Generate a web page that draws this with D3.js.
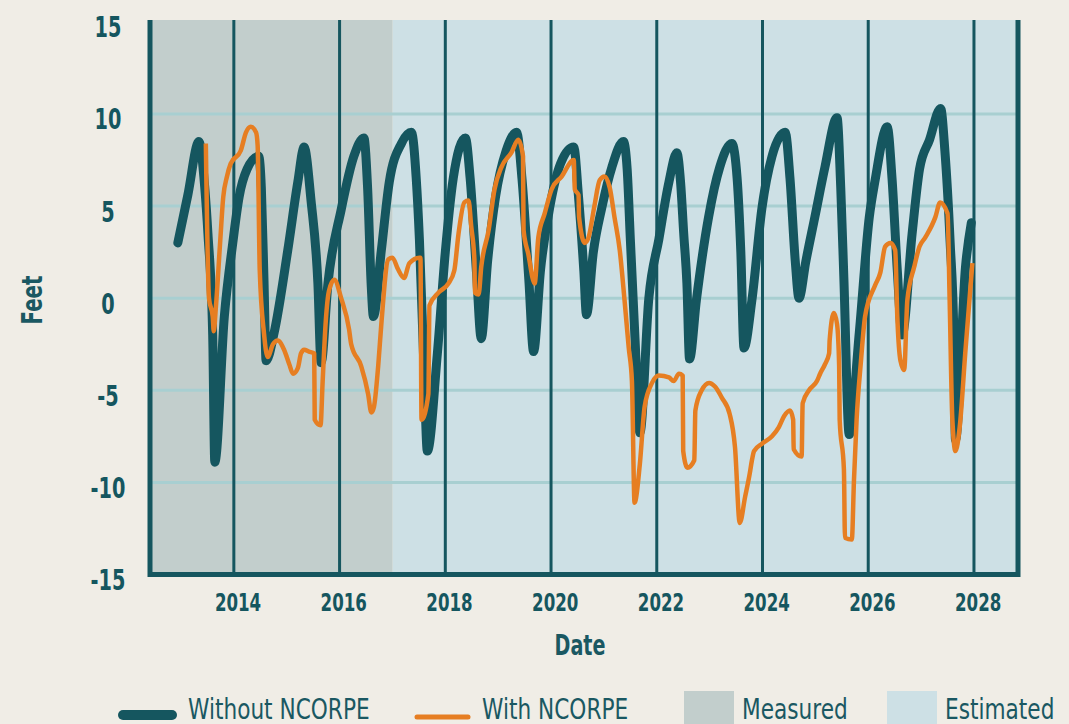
<!DOCTYPE html>
<html>
<head>
<meta charset="utf-8">
<script src="https://cdn.jsdelivr.net/npm/d3@7"></script>
<style>
    body { margin: 0; background: #f0ede6; }
    svg { display: block; }
    text { font-family: "DejaVu Sans Condensed", "DejaVu Sans", sans-serif; fill: #1a5862; }
</style>
</head>
<body>
<script>
//groundwater level chart - with / without NCORPE

//decimal year of each point, "Without NCORPE"
var withoutYears = [2012.94, 2013.13, 2013.34, 2013.45, 2013.51, 2013.60, 2013.64, 2013.82, 2013.98, 2014.10,
    2014.25, 2014.47, 2014.52, 2014.57, 2014.61, 2014.76, 2015.02, 2015.21, 2015.33, 2015.46,
    2015.59, 2015.65, 2015.78, 2016.03, 2016.27, 2016.46, 2016.53, 2016.60, 2016.64, 2016.79,
    2016.94, 2017.17, 2017.36, 2017.45, 2017.51, 2017.60, 2017.66, 2017.85, 2018.00, 2018.15,
    2018.38, 2018.47, 2018.59, 2018.68, 2018.80, 2018.95, 2019.15, 2019.35, 2019.45, 2019.58,
    2019.67, 2019.80, 2019.98, 2020.18, 2020.43, 2020.52, 2020.62, 2020.67, 2020.80, 2020.96,
    2021.15, 2021.37, 2021.44, 2021.50, 2021.59, 2021.68, 2021.85, 2022.04, 2022.23, 2022.38,
    2022.45, 2022.51, 2022.57, 2022.62, 2022.75, 2022.98, 2023.19, 2023.42, 2023.52, 2023.59,
    2023.65, 2023.80, 2023.99, 2024.18, 2024.43, 2024.52, 2024.62, 2024.69, 2024.82, 2024.99,
    2025.18, 2025.41, 2025.48, 2025.54, 2025.64, 2025.83, 2026.02, 2026.13, 2026.36, 2026.45,
    2026.55, 2026.64, 2026.83, 2026.97, 2027.16, 2027.37, 2027.45, 2027.55, 2027.62, 2027.65,
    2027.84, 2027.95];
//feet, "Without NCORPE"
var withoutFeet = [3.0, 5.6, 8.5, 6.0, 3.5, -2.0, -8.9, -1.0, 3.0, 5.5,
    7.0, 7.7, 6.0, 1.0, -3.4, -1.9, 2.6, 6.3, 8.2, 5.3,
    0.8, -3.5, 0.8, 4.8, 7.7, 8.7, 6.0, 0.6, -1.0, 2.6,
    6.3, 8.4, 9.0, 6.5, 3.2, -4.1, -8.3, -3.0, 2.5, 6.5,
    8.7, 6.5, 1.4, -2.2, 2.0, 5.5, 8.0, 9.0, 6.5, 1.0,
    -2.9, 1.5, 5.0, 7.3, 8.2, 5.5, 1.5, -0.9, 2.5, 4.9,
    7.1, 8.5, 7.0, 3.2, -2.3, -7.3, 0.0, 3.2, 6.3, 7.9,
    6.3, 3.5, 0.8, -3.3, -0.1, 4.4, 7.1, 8.4, 6.5, 2.5,
    -2.7, -0.1, 4.9, 7.7, 9.0, 6.5, 2.0, 0.0, 2.0, 4.4,
    7.1, 9.8, 6.0, 1.0, -7.4, -1.9, 4.4, 6.4, 9.3, 6.5,
    1.5, -2.0, 3.5, 7.0, 8.6, 10.3, 8.0, 3.0, -2.0, -7.7,
    1.7, 4.1];

//decimal year of each point, "With NCORPE"
var withYears = [2013.47, 2013.53, 2013.60, 2013.62, 2013.66, 2013.74, 2013.80, 2013.87, 2013.94, 2014.13,
    2014.23, 2014.32, 2014.42, 2014.45, 2014.49, 2014.57, 2014.64, 2014.74, 2014.83, 2014.95,
    2015.05, 2015.12, 2015.21, 2015.27, 2015.33, 2015.42, 2015.52, 2015.53, 2015.64, 2015.68,
    2015.74, 2015.80, 2015.90, 2016.03, 2016.18, 2016.22, 2016.41, 2016.54, 2016.60, 2016.65,
    2016.73, 2016.79, 2016.92, 2017.00, 2017.10, 2017.22, 2017.32, 2017.51, 2017.53, 2017.55,
    2017.68, 2017.70, 2017.87, 2018.06, 2018.17, 2018.25, 2018.36, 2018.44, 2018.49, 2018.55,
    2018.56, 2018.63, 2018.68, 2018.82, 2018.93, 2019.06, 2019.25, 2019.38, 2019.47, 2019.48,
    2019.57, 2019.69, 2019.76, 2019.88, 2020.01, 2020.20, 2020.43, 2020.45, 2020.52, 2020.53,
    2020.64, 2020.71, 2020.82, 2020.92, 2021.01, 2021.11, 2021.20, 2021.30, 2021.39, 2021.47,
    2021.53, 2021.58, 2021.68, 2021.77, 2021.91, 2022.04, 2022.23, 2022.32, 2022.42, 2022.49,
    2022.50, 2022.58, 2022.71, 2022.73, 2022.85, 2022.99, 2023.10, 2023.23, 2023.38, 2023.48,
    2023.57, 2023.67, 2023.76, 2023.80, 2023.84, 2023.99, 2024.18, 2024.31, 2024.41, 2024.52,
    2024.58, 2024.59, 2024.74, 2024.76, 2024.88, 2025.03, 2025.09, 2025.18, 2025.26, 2025.27,
    2025.35, 2025.41, 2025.45, 2025.46, 2025.54, 2025.56, 2025.69, 2025.73, 2025.78, 2025.86,
    2025.94, 2026.13, 2026.23, 2026.32, 2026.42, 2026.51, 2026.55, 2026.61, 2026.68, 2026.74,
    2026.87, 2026.97, 2027.08, 2027.27, 2027.36, 2027.50, 2027.54, 2027.59, 2027.65, 2027.73,
    2027.84, 2027.97];
//feet, "With NCORPE"
var withFeet = [8.4, 0.0, -1.0, -1.8, -0.5, 3.0, 5.5, 6.6, 7.3, 8.0,
    9.0, 9.3, 9.0, 8.3, 1.5, -1.9, -3.2, -2.5, -2.3, -2.8,
    -3.6, -4.1, -3.8, -3.0, -2.8, -2.9, -3.0, -6.6, -6.9, -4.5,
    -1.2, 0.4, 1.0, 0.0, -1.7, -2.5, -3.7, -5.2, -6.2, -5.9,
    -3.7, -1.4, 2.1, 2.2, 1.6, 1.1, 1.9, 2.2, 2.2, -6.6,
    -5.2, -0.4, 0.3, 0.8, 1.5, 3.5, 5.2, 5.3, 3.9, 2.1,
    0.3, 0.2, 1.7, 3.7, 5.9, 7.1, 7.9, 8.6, 7.7, 3.7,
    2.4, 0.8, 3.3, 4.6, 5.9, 6.6, 7.5, 5.9, 5.6, 4.4,
    3.0, 3.3, 5.0, 6.4, 6.6, 6.0, 4.4, 2.6, -0.1, -2.7,
    -4.5, -11.1, -9.0, -5.9, -4.6, -4.2, -4.3, -4.5, -4.1, -4.2,
    -8.3, -9.2, -8.8, -6.1, -5.0, -4.6, -4.8, -5.4, -6.3, -8.1,
    -12.2, -10.8, -9.5, -8.8, -8.3, -7.9, -7.5, -7.0, -6.4, -6.1,
    -6.6, -8.2, -8.6, -5.7, -5.0, -4.5, -4.1, -3.6, -3.0, -2.3,
    -0.8, -1.4, -3.7, -6.6, -9.3, -13.0, -13.1, -9.9, -6.6, -3.5,
    -1.0, 0.7, 1.4, 2.8, 3.0, 2.6, -1.0, -3.4, -3.9, -0.1,
    1.7, 2.8, 3.3, 4.4, 5.2, 4.6, -0.1, -6.5, -8.3, -7.0,
    -2.8, 1.9];

var yearTicks = [2014, 2016, 2018, 2020, 2022, 2024, 2026, 2028];
var feetTicks = [15, 10, 5, 0, -5, -10, -15];
var gridFeet = [10, 5, 0, -5, -10];
var measuredEnd = 2017.0; //measured data up to here, estimated after
var legendLabels = ["Without NCORPE", "With NCORPE", "Measured", "Estimated"];

window.onload = function(){

    //svg dimension variables
    var w = 1069, h = 724;

    var teal = "#15565f", orange = "#e67e22";
    var squeeze = 0.74; //fake a condensed face, DejaVu Condensed is still too wide

    var container = d3.select("body")
        .append("svg")
        .attr("width", w)
        .attr("height", h)
        .attr("class", "container");

    //scales
    var x = d3.scaleLinear()
        .domain([2012.414, 2028.833])
        .range([150, 1018]);

    var y = d3.scaleLinear()
        .domain([-15, 15.1])
        .range([574.5, 20]);

    //background bands
    container.append("rect")
        .attr("class", "estimated")
        .attr("x", x(measuredEnd))
        .attr("y", y(15.1))
        .attr("width", x(2028.833) - x(measuredEnd))
        .attr("height", y(-15) - y(15.1))
        .style("fill", "#cde0e5");

    container.append("rect")
        .attr("class", "measured")
        .attr("x", x(2012.414))
        .attr("y", y(15.1))
        .attr("width", x(measuredEnd) - x(2012.414))
        .attr("height", y(-15) - y(15.1))
        .style("fill", "#c2cecc");

    //horizontal grid
    container.selectAll(".hgrid")
        .data(gridFeet)
        .enter()
        .append("line")
        .attr("class", "hgrid")
        .attr("x1", x(2012.414))
        .attr("x2", x(2028.833))
        .attr("y1", function(d){ return y(d); })
        .attr("y2", function(d){ return y(d); })
        .style("stroke", "#a8cfd1")
        .style("stroke-width", 3);

    //vertical year lines
    container.selectAll(".vgrid")
        .data(yearTicks)
        .enter()
        .append("line")
        .attr("class", "vgrid")
        .attr("x1", function(d){ return x(d); })
        .attr("x2", function(d){ return x(d); })
        .attr("y1", y(15.1))
        .attr("y2", y(-15))
        .style("stroke", teal)
        .style("stroke-width", 3);

    //lines
    var withoutData = withoutYears.map(function(d, i){ return [d, withoutFeet[i]]; });
    var withData = withYears.map(function(d, i){ return [d, withFeet[i]]; });

    var line = d3.line()
        .x(function(d){ return x(d[0]); })
        .y(function(d){ return y(d[1]); })
        .curve(d3.curveMonotoneX);

    container.append("path")
        .datum(withoutData)
        .attr("class", "without")
        .attr("d", line)
        .style("fill", "none")
        .style("stroke", teal)
        .style("stroke-width", 9)
        .style("stroke-linecap", "round")
        .style("stroke-linejoin", "round");

    container.append("path")
        .datum(withData)
        .attr("class", "with")
        .attr("d", line)
        .style("fill", "none")
        .style("stroke", orange)
        .style("stroke-width", 4.5)
        .style("stroke-linejoin", "round");

    //frame (left, bottom, right)
    container.append("path")
        .attr("class", "frame")
        .attr("d", "M" + x(2012.414) + "," + y(15.1) + "V" + y(-15) + "H" + x(2028.833) + "V" + y(15.1))
        .style("fill", "none")
        .style("stroke", teal)
        .style("stroke-width", 5);

    //axes
    var xAxis = d3.axisBottom(x)
        .tickValues(yearTicks)
        .tickFormat(function(d){ return String(d); })
        .tickSize(0)
        .tickPadding(0);

    var gx = container.append("g")
        .attr("class", "xaxis")
        .attr("transform", "translate(0,611)")
        .call(xAxis)
        .attr("font-family", null)
        .attr("font-size", null);
    gx.select(".domain").remove();
    gx.selectAll("text")
        .attr("y", 0)
        .attr("dy", 0)
        .attr("x", 5)
        .attr("transform", "scale(" + squeeze + ",1)")
        .style("font-size", "25px")
        .style("font-weight", "bold")
        .style("fill", teal);

    var yAxis = d3.axisLeft(y)
        .tickValues(feetTicks)
        .tickFormat(function(d){ return String(d); }) //plain hyphen like the original
        .tickSize(0)
        .tickPadding(0);

    var gy = container.append("g")
        .attr("class", "yaxis")
        .attr("transform", "translate(108,0)")
        .call(yAxis)
        .attr("font-family", null)
        .attr("font-size", null);
    gy.select(".domain").remove();
    gy.selectAll("text")
        .attr("x", 0)
        .attr("dy", 15)
        .attr("text-anchor", "middle")
        .attr("transform", "scale(" + squeeze + ",1)")
        .style("font-size", "29px")
        .style("font-weight", "bold")
        .style("fill", teal);

    //axis titles
    container.append("text")
        .attr("transform", "translate(580,655) scale(0.76,1)")
        .attr("text-anchor", "middle")
        .style("font-size", "28px")
        .style("font-weight", "bold")
        .text("Date");

    container.append("text")
        .attr("transform", "translate(42,300) rotate(-90) scale(0.76,1)")
        .attr("text-anchor", "middle")
        .style("font-size", "29px")
        .style("font-weight", "bold")
        .text("Feet");

    //legend
    var legend = container.append("g").attr("class", "legend");

    legend.append("line")
        .attr("x1", 123).attr("x2", 172)
        .attr("y1", 715).attr("y2", 715)
        .style("stroke", teal)
        .style("stroke-width", 10)
        .style("stroke-linecap", "round");

    legend.append("line")
        .attr("x1", 417).attr("x2", 468)
        .attr("y1", 717).attr("y2", 717)
        .style("stroke", orange)
        .style("stroke-width", 5)
        .style("stroke-linecap", "round");

    legend.append("rect")
        .attr("x", 684).attr("y", 691)
        .attr("width", 50).attr("height", 40)
        .style("fill", "#c2cecc");

    legend.append("rect")
        .attr("x", 887).attr("y", 691)
        .attr("width", 50).attr("height", 40)
        .style("fill", "#cde0e5");

    var legendX = [188, 482, 742, 945];
    legend.selectAll(".legendText")
        .data(legendLabels)
        .enter()
        .append("text")
        .attr("class", "legendText")
        .attr("transform", function(d, i){ return "translate(" + legendX[i] + ",719) scale(0.86,1)"; })
        .style("font-size", "28px")
        .text(function(d){ return d; });
};
</script>
</body>
</html>
